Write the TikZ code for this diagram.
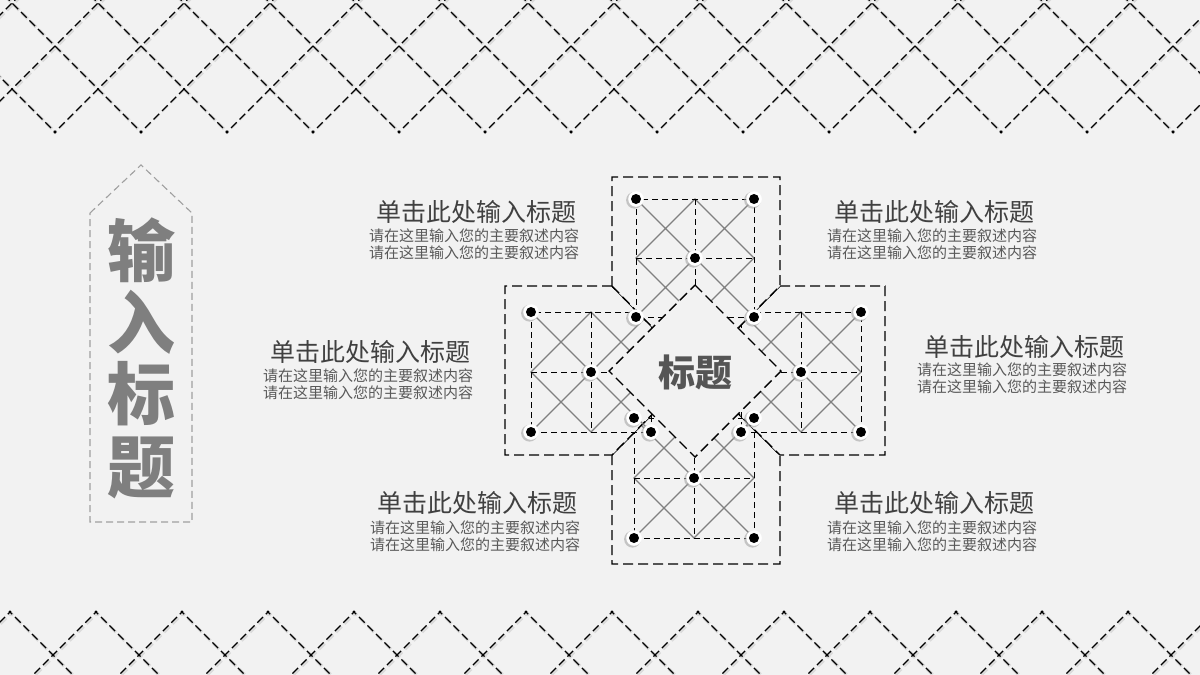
\documentclass[tikz,border=0pt]{standalone}
\usepackage{fontspec}
\newfontfamily\cjk{Noto Sans CJK SC}
\definecolor{bg}{RGB}{242,242,242}
\definecolor{gridgray}{RGB}{128,128,128}
\definecolor{txtdark}{RGB}{64,64,64}
\definecolor{txtsub}{RGB}{89,89,89}
\definecolor{titlegray}{RGB}{127,127,127}
\definecolor{centergray}{RGB}{85,85,85}
\definecolor{boxgray}{RGB}{160,160,160}
\newcommand\mgrid[3]{%
  \draw[gridsolid] (#1-#3,#2-#3) -- (#1+#3,#2+#3) (#1-#3,#2+#3) -- (#1+#3,#2-#3)
    (#1,#2-#3) -- (#1+#3,#2) -- (#1,#2+#3) -- (#1-#3,#2) -- cycle;
  \draw[griddash] (#1-#3,#2-#3) rectangle (#1+#3,#2+#3)
    (#1-#3,#2) -- (#1+#3,#2) (#1,#2-#3) -- (#1,#2+#3);
}
\newcommand\mdot[2]{%
  \fill[black!35, opacity=0.6] (#1-1.5,#2+1.2) circle (8.4pt);
  \fill[white] (#1,#2) circle (7.8pt);
  \fill[black] (#1,#2) circle (5pt);
}
\begin{document}
\begin{tikzpicture}[x=1pt,y=-1pt,
  framedash/.style={draw=black, line width=1.4pt, dash pattern=on 10pt off 5pt},
  griddash/.style={draw=black, line width=1pt, dash pattern=on 6pt off 4pt},
  gridsolid/.style={draw=gridgray, line width=1.1pt},
  latt/.style={draw=black, line width=1.25pt, dash pattern=on 8pt off 4pt},
  lattsh/.style={draw=black!14, line width=3.2pt, dash pattern=on 8pt off 4pt},
  boxdash/.style={draw=boxgray, line width=1.1pt, dash pattern=on 7pt off 4pt},
  ttl/.style={font=\cjk\fontsize{25}{30}\selectfont, text=txtdark, inner sep=0pt},
  sub/.style={font=\cjk\fontsize{15}{17}\selectfont, text=txtsub, inner sep=0pt, align=center},
  big/.style={font=\cjk\bfseries\fontsize{68}{72}\selectfont, text=titlegray, inner sep=0pt}
]
\fill[bg] (0,0) rectangle (1200,675);
\useasboundingbox (0,0) rectangle (1200,675);

% top lattice
\begin{scope}
  \clip (-40,-5) \foreach \k in {-1,...,15} { -- ({55+86*\k},134) -- ({98+86*\k},91) } -- (1320,-5) -- cycle;
  \foreach \k in {-2,...,16} {
    \draw[lattsh] ({5+86*\k},-4) -- ({150+86*\k},141);
    \draw[lattsh] ({21+86*\k},-4) -- ({-124+86*\k},141);
  }
  \foreach \k in {-2,...,16} {
    \draw[latt] ({4+86*\k},-5) -- ({149+86*\k},140);
    \draw[latt] ({20+86*\k},-5) -- ({-125+86*\k},140);
  }
\end{scope}
% bottom lattice
\begin{scope}
  \clip (-40,680) \foreach \k in {-1,...,15} { -- ({10+86*\k},610) -- ({53+86*\k},653) } -- (1320,680) -- cycle;
  \foreach \k in {-2,...,16} {
    \draw[lattsh] ({23+86*\k},601) -- ({-57+86*\k},681);
    \draw[lattsh] ({-1+86*\k},601) -- ({79+86*\k},681);
  }
  \foreach \k in {-2,...,16} {
    \draw[latt] ({22+86*\k},600) -- ({-58+86*\k},680);
    \draw[latt] ({-2+86*\k},600) -- ({78+86*\k},680);
  }
\end{scope}

% left title box
\draw[boxdash] (90,213) -- (141,165) -- (192,213) -- (192,522) -- (90,522) -- cycle;
\node[big] (v1) at (141,250) {输};
\node[big] (v2) at (141,322) {入};
\node[big] (v3) at (141,394) {标};
\node[big] (v4) at (141,468) {题};

% cards: bottom, left, right, top
\path[fill=bg, framedash] (612,455) -- (612,564) -- (780,564) -- (780,455) -- (695,371) -- cycle;
\mgrid{694}{478}{60}
\path[fill=bg, framedash] (612,286) -- (505,286) -- (505,455) -- (612,455) -- (695,371) -- cycle;
\mgrid{591}{372}{60}
\path[fill=bg, framedash] (780,286) -- (885,286) -- (885,455) -- (780,455) -- (695,371) -- cycle;
\mgrid{801}{372}{60}
\path[fill=bg, framedash] (612,286) -- (612,177) -- (780,177) -- (780,286) -- (695,371) -- cycle;
\mgrid{695}{258}{59}

% central diamond
\path[fill=bg, framedash] (695,285) -- (781,371) -- (695,457) -- (609,371) -- cycle;
\node[font=\cjk\bfseries\fontsize{37}{40}\selectfont, text=centergray, inner sep=0pt] (ct) at (695,372) {标题};

% dots
\mdot{636}{199}\mdot{754}{199}\mdot{695}{258}\mdot{636}{317}\mdot{754}{317}
\mdot{531}{312}\mdot{531}{432}\mdot{591}{372}\mdot{651}{432}
\mdot{861}{312}\mdot{861}{432}\mdot{801}{372}\mdot{741}{432}
\mdot{634}{418}\mdot{754}{418}\mdot{694}{478}\mdot{634}{538}\mdot{754}{538}

% texts
\node[ttl] (a1) at (476,212) {单击此处输入标题};
\node[sub] (b1) at (474,244.5) {请在这里输入您的主要叙述内容\\请在这里输入您的主要叙述内容};
\node[ttl] (a2) at (934,212) {单击此处输入标题};
\node[sub] (b2) at (932,244.5) {请在这里输入您的主要叙述内容\\请在这里输入您的主要叙述内容};
\node[ttl] (a3) at (370,352) {单击此处输入标题};
\node[sub] (b3) at (368,384) {请在这里输入您的主要叙述内容\\请在这里输入您的主要叙述内容};
\node[ttl] (a4) at (1024,347) {单击此处输入标题};
\node[sub] (b4) at (1022,378.5) {请在这里输入您的主要叙述内容\\请在这里输入您的主要叙述内容};
\node[ttl] (a5) at (477,503) {单击此处输入标题};
\node[sub] (b5) at (475,536) {请在这里输入您的主要叙述内容\\请在这里输入您的主要叙述内容};
\node[ttl] (a6) at (934,503) {单击此处输入标题};
\node[sub] (b6) at (932,536) {请在这里输入您的主要叙述内容\\请在这里输入您的主要叙述内容};
\end{tikzpicture}
\end{document}
